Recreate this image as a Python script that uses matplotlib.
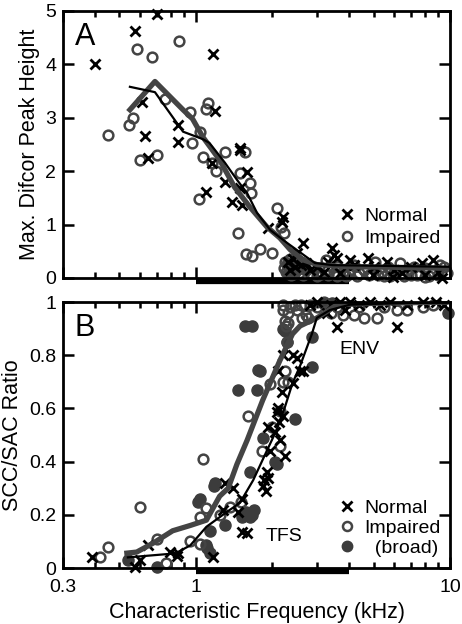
import matplotlib
matplotlib.use('Agg')
import matplotlib.pyplot as plt
import numpy as np
from matplotlib.ticker import FixedLocator, LogLocator, NullFormatter
from matplotlib.lines import Line2D

plt.rcParams['font.family'] = ['Liberation Sans', 'DejaVu Sans']

# ---------- panel A : max difcor peak height ----------
a_norm_x = [0.40, 0.575, 0.70, 1.17, 0.615, 0.85, 0.63, 0.85, 1.19, 1.49, 0.645,
            1.155, 1.49, 1.59, 1.30, 1.49, 1.39, 1.52, 1.10, 2.20, 2.18, 1.92,
            2.64, 2.50, 2.30, 2.40, 2.45, 2.35, 2.60, 2.80, 3.00, 3.43, 3.50, 3.60,
            4.04, 4.75, 5.65, 7.77, 8.60, 3.30, 4.20, 5.00, 6.00, 7.00, 9.00, 4.97,
            5.96, 9.30, 3.70, 6.50, 8.00, 2.70, 3.20]
a_norm_y = [4.00, 4.62, 4.94, 4.20, 3.30, 2.87, 2.66, 2.55, 3.13, 2.44, 2.25,
            2.16, 2.40, 1.99, 1.80, 1.69, 1.43, 1.37, 1.61, 1.14, 1.05, 0.94,
            0.66, 0.47, 0.30, 0.35, 0.20, 0.15, 0.25, 0.15, 0.20, 0.56, 0.43, 0.37,
            0.34, 0.37, 0.30, 0.28, 0.34, 0.30, 0.25, 0.20, 0.15, 0.20, 0.12, 0.06,
            0.02, 0.00, 0.10, 0.10, 0.05, 0.28, 0.12]

a_imp_x = [0.585, 0.67, 0.86, 1.12, 1.10, 0.95, 0.755, 0.565, 0.545, 0.45, 1.04,
           0.965, 0.60, 0.70, 1.065, 1.155, 1.20, 1.30, 1.56, 1.49, 1.63, 1.65,
           1.03, 1.46, 1.57, 1.66, 2.08, 2.16, 2.22, 1.79, 2.00,
           2.25, 2.30, 2.35, 2.40, 2.45, 2.50, 2.55, 2.60, 2.30, 2.40, 2.70, 2.80,
           2.90, 3.00, 3.10, 3.26, 3.30, 3.50, 3.60, 3.80, 4.00, 4.20, 4.40, 4.60,
           4.90, 5.06, 5.40, 5.70, 6.00, 6.35, 6.80, 7.20, 7.60, 8.00, 8.60, 9.10,
           9.70, 9.50, 2.35, 2.50, 2.65, 3.90, 4.80, 5.50, 6.60, 7.40, 8.30,
           2.22, 2.28, 2.32, 2.38, 2.42, 2.48, 2.52, 2.58, 2.27, 2.36, 2.44, 2.62,
           3.00, 3.30, 3.60, 4.30, 5.20, 5.80, 7.00, 8.00, 9.00]
a_imp_y = [4.29, 4.13, 4.43, 3.27, 3.16, 3.11, 3.36, 3.00, 2.87, 2.68, 2.74,
           2.53, 2.21, 2.31, 2.27, 2.16, 2.00, 2.35, 2.35, 1.97, 1.78, 1.59,
           1.48, 0.84, 0.45, 0.41, 1.31, 0.96, 0.84, 0.54, 0.47,
           0.30, 0.22, 0.15, 0.28, 0.12, 0.20, 0.10, 0.25, 0.10, 0.08, 0.15, 0.10,
           0.20, 0.12, 0.08, 0.34, 0.15, 0.10, 0.22, 0.12, 0.08, 0.25, 0.10, 0.15,
           0.07, 0.30, 0.12, 0.20, 0.10, 0.28, 0.15, 0.20, 0.08, 0.18, 0.12, 0.24,
           0.09, 0.20, 0.35, 0.32, 0.05, 0.04, 0.05, 0.04, 0.03, 0.05, 0.04,
           0.18, 0.26, 0.33, 0.20, 0.14, 0.26, 0.16, 0.30, 0.12, 0.06, 0.22, 0.18,
           0.04, 0.05, 0.03, 0.04, 0.06, 0.03, 0.05, 0.02, 0.05]

a_fit_norm_x = [0.55, 0.69, 0.89, 1.065, 1.13, 1.30, 1.45, 1.59, 1.74, 1.96, 2.28,
                2.73, 2.94, 3.46, 5.0, 7.0, 10.0]
a_fit_norm_y = [3.58, 3.48, 2.74, 2.60, 2.53, 2.16, 1.84, 1.59, 1.22, 0.90, 0.66,
                0.39, 0.28, 0.24, 0.23, 0.22, 0.21]
a_fit_imp_x = [0.55, 0.69, 0.89, 0.97, 1.065, 1.24, 1.42, 1.63, 1.90, 2.14, 2.35,
               2.64, 3.0, 4.0, 6.0, 10.0]
a_fit_imp_y = [3.15, 3.68, 3.15, 2.98, 2.64, 2.21, 1.70, 1.33, 0.96, 0.75, 0.53,
               0.34, 0.25, 0.21, 0.20, 0.18]

# ---------- panel B : SCC/SAC ratio ----------
b_norm_x = [0.39, 0.60, 0.575, 0.645, 0.79, 0.85, 0.84, 1.17, 1.30, 1.40, 1.52,
            1.28, 1.46, 1.52, 1.59, 1.83, 1.90, 1.92, 1.96, 2.05, 2.14, 2.24,
            1.92, 2.10, 2.08, 2.18, 2.40, 2.10, 2.57, 2.64, 2.40, 2.50, 2.20,
            1.86, 1.88, 2.12, 2.20, 3.00, 3.69, 4.04, 4.84, 5.80, 7.80, 3.60,
            6.20, 3.86, 3.27, 2.80, 3.40, 4.40, 5.30, 6.80, 8.80, 9.50]
b_norm_y = [0.04, 0.03, 0.005, 0.086, 0.06, 0.055, 0.045, 0.04, 0.32, 0.30, 0.26,
            0.22, 0.21, 0.135, 0.13, 0.31, 0.36, 0.34, 0.44, 0.51, 0.48, 0.42,
            0.53, 0.60, 0.585, 0.66, 0.695, 0.74, 0.74, 0.74, 0.80, 0.79, 0.80,
            0.33, 0.29, 0.55, 0.57, 1.00, 1.00, 1.00, 1.00, 1.00, 1.00, 0.906,
            0.906, 0.97, 0.96, 0.99, 0.99, 0.99, 0.99, 0.99, 1.00, 0.99]

b_imp_x = [0.42, 0.45, 0.60, 0.70, 0.76, 0.95, 1.04, 1.04, 1.10, 1.24, 1.36,
           1.065, 1.60, 1.82, 2.14, 2.00, 2.14, 1.96, 2.20, 2.30, 2.24, 2.28,
           2.20, 2.30, 2.24, 2.30, 2.35, 2.50, 2.60, 2.70, 2.80, 3.00, 3.20,
           3.40, 3.60, 3.80, 4.20, 4.40, 4.60, 5.16, 5.50, 6.20, 6.80, 7.80,
           8.60, 2.20, 2.26, 2.45, 2.62, 2.75, 1.50]
b_imp_y = [0.04, 0.08, 0.23, 0.11, 0.02, 0.10, 0.09, 0.19, 0.225, 0.20, 0.23,
           0.41, 0.57, 0.44, 0.46, 0.53, 0.59, 0.69, 0.70, 0.70, 0.74, 0.85,
           0.97, 0.96, 0.93, 0.92, 0.98, 0.97, 0.99, 0.95, 0.99, 0.98, 1.00,
           0.96, 0.98, 0.95, 0.95, 0.98, 0.94, 0.94, 0.98, 0.97, 0.97, 0.98,
           0.99, 0.99, 0.91, 0.99, 0.94, 0.94, 0.25]

b_broad_x = [1.56, 1.66, 1.76, 1.79, 1.46, 1.74, 2.45, 1.83, 2.08, 1.63, 1.19,
             1.18, 1.04, 1.02, 1.52, 1.63, 1.30, 1.135, 1.10, 1.11, 1.135, 0.54,
             0.70, 2.20, 2.28, 2.86, 2.86, 3.43, 3.17, 9.80, 1.66, 2.05, 1.70,
             1.57, 2.24]
b_broad_y = [0.91, 0.91, 0.745, 0.74, 0.67, 0.67, 0.56, 0.49, 0.39, 0.36, 0.32,
             0.31, 0.26, 0.25, 0.19, 0.19, 0.16, 0.14, 0.086, 0.075, 0.056, 0.03,
             0.005, 0.90, 0.85, 0.87, 0.755, 0.995, 0.995, 0.96, 0.20, 0.40, 0.22,
             0.21, 0.89]

b_fit_norm_x = [0.54, 0.83, 0.95, 1.10, 1.32, 1.49, 1.68, 1.90, 2.08, 2.24, 2.40,
                2.57, 2.86, 2.99, 3.37, 4.04, 6.0, 10.0]
b_fit_norm_y = [0.04, 0.055, 0.085, 0.155, 0.21, 0.245, 0.33, 0.44, 0.52, 0.605,
                0.695, 0.76, 0.88, 0.94, 0.97, 0.99, 0.995, 1.0]
b_fit_imp_x = [0.535, 0.585, 0.68, 0.81, 0.95, 1.10, 1.24, 1.34, 1.45, 1.59, 1.83,
               2.14, 2.40, 2.57, 2.99, 3.6, 5.0, 10.0]
b_fit_imp_y = [0.056, 0.06, 0.094, 0.14, 0.16, 0.18, 0.27, 0.30, 0.39, 0.48, 0.63,
               0.78, 0.88, 0.91, 0.94, 0.99, 0.995, 1.0]

GRAY = '#444444'
FILL = '#3c3c3c'

fig = plt.figure(figsize=(4.62, 6.24), dpi=100)
axA = fig.add_axes([0.1364, 0.5545, 0.8377, 0.4279])
axB = fig.add_axes([0.1364, 0.0897, 0.8377, 0.4263])


def style(ax):
    ax.set_xscale('log')
    ax.set_xlim(0.3, 10)
    ax.xaxis.set_major_locator(FixedLocator([0.3, 1, 10]))
    ax.xaxis.set_minor_locator(LogLocator(base=10, subs=np.arange(2, 10)))
    ax.xaxis.set_minor_formatter(NullFormatter())
    for s in ax.spines.values():
        s.set_linewidth(2.0)
    ax.tick_params(which='both', direction='in', top=True, right=True,
                   width=1.8, labelsize=14, pad=5)
    ax.tick_params(axis='x', which='both', pad=8)
    ax.tick_params(which='major', length=8)
    ax.tick_params(which='minor', length=4)
    # thick bar below the axis marking 1-4 kHz
    ax.plot([1, 4], [-0.013, -0.013], transform=ax.get_xaxis_transform(),
            color='k', lw=4.5, clip_on=False, solid_capstyle='butt')


for ax in (axA, axB):
    style(ax)

# panel A
axA.plot(a_imp_x, a_imp_y, 'o', ms=7, mfc='none', mec=GRAY, mew=1.8, clip_on=False)
axA.plot(a_norm_x, a_norm_y, 'x', ms=6.5, color='k', mew=2, clip_on=False)
axA.plot(a_fit_imp_x, a_fit_imp_y, '-', color=GRAY, lw=3.8)
axA.plot(a_fit_norm_x, a_fit_norm_y, '-', color='k', lw=1.6)
axA.set_ylim(0, 5)
axA.set_yticks([0, 1, 2, 3, 4, 5])
axA.set_xticklabels([])
axA.set_ylabel('Max. Difcor Peak Height', fontsize=15.5, labelpad=4)
axA.text(0.03, 0.96, 'A', transform=axA.transAxes, fontsize=22, va='top', ha='left')

hA = [Line2D([], [], ls='none', marker='x', ms=6.5, color='k', mew=2),
      Line2D([], [], ls='none', marker='o', ms=6.5, mfc='none', mec=GRAY, mew=1.8)]
axA.legend(hA, ['Normal', 'Impaired'], loc='upper left', bbox_to_anchor=(0.708, 0.265),
           frameon=False, fontsize=14, handlelength=1.0, handletextpad=0.4,
           labelspacing=0.22, borderpad=0, borderaxespad=0)

# panel B
axB.plot(b_broad_x, b_broad_y, 'o', ms=8, color=FILL, mec=FILL, clip_on=False)
axB.plot(b_imp_x, b_imp_y, 'o', ms=7, mfc='none', mec=GRAY, mew=1.8, clip_on=False)
axB.plot(b_norm_x, b_norm_y, 'x', ms=6.5, color='k', mew=2, clip_on=False)
axB.plot(b_fit_imp_x, b_fit_imp_y, '-', color=GRAY, lw=3.8)
axB.plot(b_fit_norm_x, b_fit_norm_y, '-', color='k', lw=1.6)
axB.set_ylim(0, 1)
axB.set_yticks([0, 0.2, 0.4, 0.6, 0.8, 1])
axB.set_yticklabels(['0', '0.2', '0.4', '0.6', '0.8', '1'])
axB.set_xticklabels(['0.3', '1', '10'])
axB.set_ylabel('SCC/SAC Ratio', fontsize=15.5, labelpad=4)
axB.set_xlabel('Characteristic Frequency (kHz)', fontsize=15.5, labelpad=4)
axB.text(0.03, 0.96, 'B', transform=axB.transAxes, fontsize=22, va='top', ha='left')
axB.text(4.4, 0.82, 'ENV', fontsize=14, ha='center', va='center')
axB.text(2.22, 0.12, 'TFS', fontsize=14, ha='center', va='center')

hB = [Line2D([], [], ls='none', marker='x', ms=6.5, color='k', mew=2),
      Line2D([], [], ls='none', marker='o', ms=6.5, mfc='none', mec=GRAY, mew=1.8),
      Line2D([], [], ls='none', marker='o', ms=7.5, color=FILL)]
axB.legend(hB, ['Normal', 'Impaired', '  (broad)'], loc='upper left',
           bbox_to_anchor=(0.708, 0.258), frameon=False, fontsize=14,
           handlelength=1.0, handletextpad=0.4, labelspacing=0.12,
           borderpad=0, borderaxespad=0)

fig.savefig('out.png', dpi=100)
